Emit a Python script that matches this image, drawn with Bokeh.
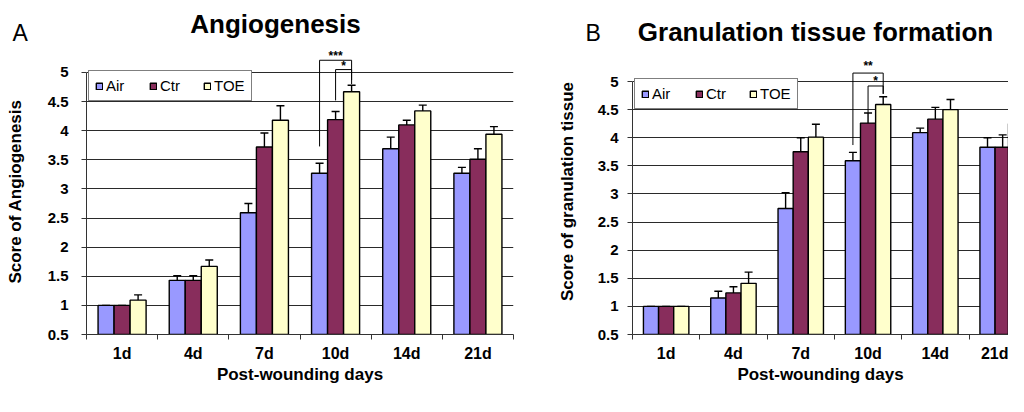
from bokeh.plotting import figure
from bokeh.models import (Range1d, FixedTicker, Whisker, TeeHead, Legend, LegendItem,
                          ColumnDataSource, NumeralTickFormatter)
from bokeh.layouts import row, column
from bokeh.embed import file_html
from bokeh.resources import INLINE
from bokeh.core.properties import value

# ---------------- data ----------------
days = ["1d", "4d", "7d", "10d", "14d", "21d"]
groups = ["Air", "Ctr", "TOE"]
colors = ["#9999FF", "#882D5C", "#FFFFCC"]

angio_air = [1.00, 1.43, 2.59, 3.27, 3.69, 3.27]
angio_ctr = [1.00, 1.43, 3.72, 4.19, 4.10, 3.51]
angio_toe = [1.09, 1.67, 4.18, 4.67, 4.34, 3.94]
angio_air_err = [0.00, 0.08, 0.16, 0.17, 0.20, 0.10]
angio_ctr_err = [0.00, 0.08, 0.24, 0.14, 0.08, 0.18]
angio_toe_err = [0.09, 0.11, 0.25, 0.11, 0.10, 0.13]

gran_air = [1.00, 1.15, 2.74, 3.59, 4.09, 3.83]
gran_ctr = [1.00, 1.24, 3.75, 4.26, 4.33, 3.83]
gran_toe = [1.00, 1.41, 4.01, 4.59, 4.50, 4.25]
gran_air_err = [0.00, 0.12, 0.28, 0.15, 0.08, 0.17]
gran_ctr_err = [0.00, 0.11, 0.25, 0.18, 0.21, 0.22]
gran_toe_err = [0.00, 0.20, 0.23, 0.14, 0.18, 0.22]

y_ticks = [0.5, 1, 1.5, 2, 2.5, 3, 3.5, 4, 4.5, 5]

# significance brackets: (day, from group, to group, stars, y_from, y_top, y_to, y_star)
angio_sig = [("10d", "Air", "TOE", "***", 3.73, 5.21, 4.80, 5.29),
             ("10d", "Ctr", "TOE", "*", 4.52, 5.05, 4.87, 5.12)]
gran_sig = [("10d", "Air", "TOE", "**", 3.87, 5.15, 4.78, 5.27),
            ("10d", "Ctr", "TOE", "*", 4.44, 4.92, 4.78, 5.01)]

FONT = "Liberation Sans"
BAR_W = 0.225
OFFS = [-BAR_W, 0.0, BAR_W]
Y0 = 0.5


def make_panel(ylabel, series, errors, sig, x_end, y_end,
               width, height, b_left, b_right, b_bottom,
               ytick_standoff, ylab_standoff, xtick_standoff, xlab_standoff):
    frame_h = height - b_bottom
    p = figure(output_backend="svg", toolbar_location=None,
               width=width, height=height,
               min_border_left=b_left, min_border_right=b_right,
               min_border_top=0, min_border_bottom=b_bottom,
               x_range=Range1d(0, x_end), y_range=Range1d(Y0, y_end),
               background_fill_color="white", border_fill_color="white")
    p.outline_line_color = None

    renderers = []
    for k, (g, vals, errs) in enumerate(zip(groups, series, errors)):
        xs = [i + 0.5 + OFFS[k] for i in range(len(days))]
        src = ColumnDataSource(dict(x=xs, top=vals,
                                    upper=[v + e for v, e in zip(vals, errs)]))
        r = p.vbar(x="x", top="top", bottom=Y0, width=BAR_W, source=src,
                   fill_color=colors[k], line_color="black", line_width=1.4)
        renderers.append(r)
        w = Whisker(base="x", lower="top", upper="upper", source=src,
                    dimension="height", line_color="black", line_width=1.4,
                    upper_head=TeeHead(size=8, line_color="black", line_width=1.4),
                    lower_head=None)
        p.add_layout(w)

    # significance brackets
    for day, g1, g2, stars, y1, ytop, y2, ystar in sig:
        i = days.index(day)
        x1 = i + 0.5 + OFFS[groups.index(g1)]
        x2 = i + 0.5 + OFFS[groups.index(g2)]
        p.line(x=[x1, x1, x2, x2], y=[y1, ytop, ytop, y2],
               line_color="black", line_width=1)
        p.text(x=[(x1 + x2) / 2], y=[ystar], text=[stars],
               text_font=value(FONT), text_font_style="bold",
               text_font_size="12px", text_align="center",
               text_baseline="middle", text_color="black")

    # axes
    yax = p.yaxis[0]
    yax.ticker = FixedTicker(ticks=y_ticks)
    yax.formatter = NumeralTickFormatter(format="0.[0]")
    yax.bounds = (Y0, 5)
    yax.axis_label = ylabel
    yax.axis_label_text_font = FONT
    yax.axis_label_text_font_style = "bold"
    yax.axis_label_text_font_size = "17px"
    yax.axis_label_text_color = "black"
    yax.axis_label_standoff = ylab_standoff
    yax.major_label_text_font = FONT
    yax.major_label_text_font_style = "bold"
    yax.major_label_text_font_size = "15px"
    yax.major_label_text_color = "black"
    yax.major_label_standoff = ytick_standoff
    yax.major_tick_out = 5
    yax.major_tick_in = 0
    yax.minor_tick_line_color = None
    yax.axis_line_color = "#333333"
    yax.major_tick_line_color = "#333333"

    xax = p.xaxis[0]
    xax.ticker = FixedTicker(ticks=[i + 0.5 for i in range(len(days))],
                             minor_ticks=list(range(len(days) + 1)))
    xax.major_label_overrides = {i + 0.5: d for i, d in enumerate(days)}
    xax.major_tick_line_color = None
    xax.major_tick_out = 0
    xax.major_tick_in = 0
    xax.minor_tick_out = 5
    xax.minor_tick_in = 0
    xax.minor_tick_line_color = "#333333"
    xax.axis_line_color = "#333333"
    xax.major_label_text_font = FONT
    xax.major_label_text_font_style = "bold"
    xax.major_label_text_font_size = "16px"
    xax.major_label_text_color = "black"
    xax.major_label_standoff = xtick_standoff
    xax.axis_label = "Post-wounding days"
    xax.axis_label_text_font = FONT
    xax.axis_label_text_font_style = "bold"
    xax.axis_label_text_font_size = "17px"
    xax.axis_label_text_color = "black"
    xax.axis_label_standoff = xlab_standoff

    p.xgrid.visible = False
    p.ygrid.grid_line_color = "#2a2a2a"
    p.ygrid.grid_line_width = 1

    # legend: sits between the 4.5 and 5 gridlines at the left of the frame
    px_per_unit = frame_h / (y_end - Y0)
    leg = Legend(items=[LegendItem(label=g, renderers=[r]) for g, r in zip(groups, renderers)],
                 orientation="horizontal", location=(2, (4.5 - Y0) * px_per_unit),
                 margin=0, padding=6,
                 spacing=15, glyph_width=8, glyph_height=8, label_standoff=3,
                 label_width=28, label_height=int(0.5 * px_per_unit) - 12,
                 label_text_font=FONT, label_text_font_size="15px",
                 label_text_color="black",
                 border_line_color="black", border_line_width=1,
                 background_fill_color="white", background_fill_alpha=1)
    p.add_layout(leg)
    return p


HEADER_H = 48
# header strip with panel letters and titles
header = figure(output_backend="svg", toolbar_location=None, width=1008, height=HEADER_H,
                x_range=Range1d(0, 1008), y_range=Range1d(HEADER_H, 0),
                min_border=0, border_fill_color="white", background_fill_color="white")
header.axis.visible = False
header.grid.visible = False
header.outline_line_color = None
header.text(x=[12, 585], y=[32, 32], text=["A", "B"], text_font=value(FONT),
            text_font_size="23px", text_align="left", text_baseline="alphabetic",
            text_color="black")
header.text(x=[275, 815], y=[23, 31], text=["Angiogenesis", "Granulation tissue formation"],
            text_font=value(FONT), text_font_style="bold", text_font_size="26px",
            text_align="center", text_baseline="alphabetic", text_color="black")

PANEL_H = 348
pA = make_panel("Score of Angiogenesis",
                [angio_air, angio_ctr, angio_toe],
                [angio_air_err, angio_ctr_err, angio_toe_err], angio_sig,
                x_end=6, y_end=5.412,
                width=520, height=PANEL_H, b_left=86, b_right=7, b_bottom=62,
                ytick_standoff=13, ylab_standoff=20, xtick_standoff=5, xlab_standoff=0)

pB = make_panel("Score of granulation tissue",
                [gran_air, gran_ctr, gran_toe],
                [gran_air_err, gran_ctr_err, gran_toe_err], gran_sig,
                x_end=376 / 67.3, y_end=5.587,
                width=488, height=PANEL_H, b_left=112, b_right=0, b_bottom=62,
                ytick_standoff=9, ylab_standoff=18, xtick_standoff=5, xlab_standoff=0)

layout = column(header, row(pA, pB), spacing=0)
open("out.html", "w").write(file_html(layout, INLINE))
